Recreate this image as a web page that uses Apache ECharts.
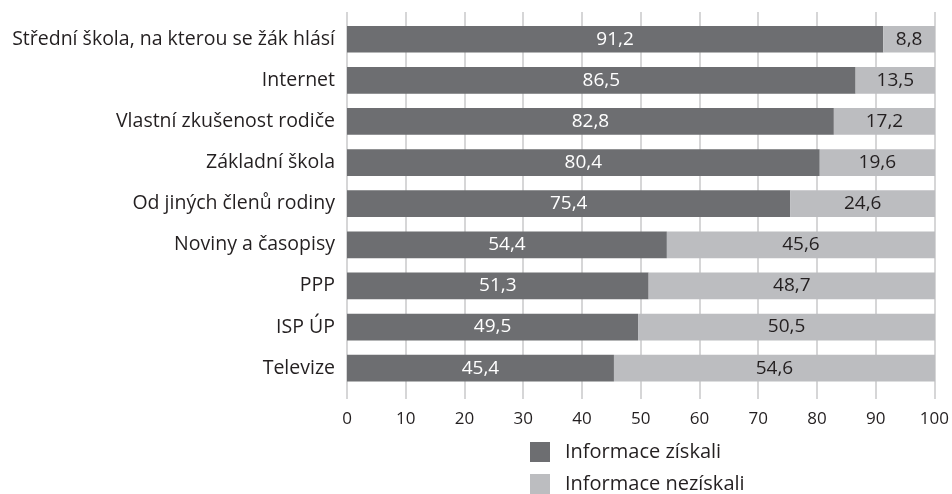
<!DOCTYPE html>
<html><head><meta charset="utf-8">
<script src="https://cdn.jsdelivr.net/npm/echarts@6/dist/echarts.min.js"></script>
<style>html,body{margin:0;padding:0;background:#fff}#c{width:952px;height:494px}</style>
</head><body><div id="c"></div>
<script>
const categories = ["Střední škola, na kterou se žák hlásí","Internet","Vlastní zkušenost rodiče","Základní škola","Od jiných členů rodiny","Noviny a časopisy","PPP","ISP ÚP","Televize"];
const ziskali = [91.2,86.5,82.8,80.4,75.4,54.4,51.3,49.5,45.4];
const neziskali = [8.8,13.5,17.2,19.6,24.6,45.6,48.7,50.5,54.6];
const seriesNames = ["Informace získali","Informace nezískali"];
const FONT = "Open Sans";
const fmt = p => String(p.value).replace('.', ',');
const legendText = {fontFamily:FONT,fontSize:20,lineHeight:20,color:'#231f20',padding:[0,0,0,10]};
const chart = echarts.init(document.getElementById('c'), null, {renderer:'canvas'});
chart.setOption({
  animation:false,
  textStyle:{fontFamily:FONT},
  grid:[
    {left:347,right:17,top:12,bottom:95},
    {left:347,right:17,top:18.7,height:370}
  ],
  xAxis:[
    {gridIndex:0,type:'value',min:0,max:100,interval:10,
     axisLine:{show:false},axisTick:{show:false},
     splitLine:{show:true,lineStyle:{color:'#c8c8ca',width:1.5}},
     axisLabel:{fontFamily:FONT,fontSize:17,color:'#231f20',margin:12}},
    {gridIndex:1,type:'value',min:0,max:100,show:false}
  ],
  yAxis:[
    {gridIndex:0,type:'value',min:0,max:1,show:false},
    {gridIndex:1,type:'category',data:categories,inverse:true,
     axisLine:{show:false},axisTick:{show:false},splitLine:{show:false},
     axisLabel:{fontFamily:FONT,fontSize:19.5,color:'#231f20',margin:12}}
  ],
  legend:[
    {left:530,top:442,padding:0,itemWidth:20,itemHeight:20,icon:'rect',data:[seriesNames[0]],textStyle:legendText},
    {left:530,top:474,padding:0,itemWidth:20,itemHeight:20,icon:'rect',data:[seriesNames[1]],textStyle:legendText}
  ],
  series:[
    {type:'scatter',xAxisIndex:0,yAxisIndex:0,data:[],silent:true},
    {name:seriesNames[0],type:'bar',stack:'s',xAxisIndex:1,yAxisIndex:1,data:ziskali,barWidth:'65%',
     itemStyle:{color:'#6d6e71'},
     label:{show:true,position:'inside',color:'#ffffff',fontFamily:FONT,fontSize:19,formatter:fmt}},
    {name:seriesNames[1],type:'bar',stack:'s',xAxisIndex:1,yAxisIndex:1,data:neziskali,barWidth:'65%',
     itemStyle:{color:'#bcbdc0'},
     label:{show:true,position:'inside',color:'#231f20',fontFamily:FONT,fontSize:19,formatter:fmt}}
  ]
});
</script></body></html>
